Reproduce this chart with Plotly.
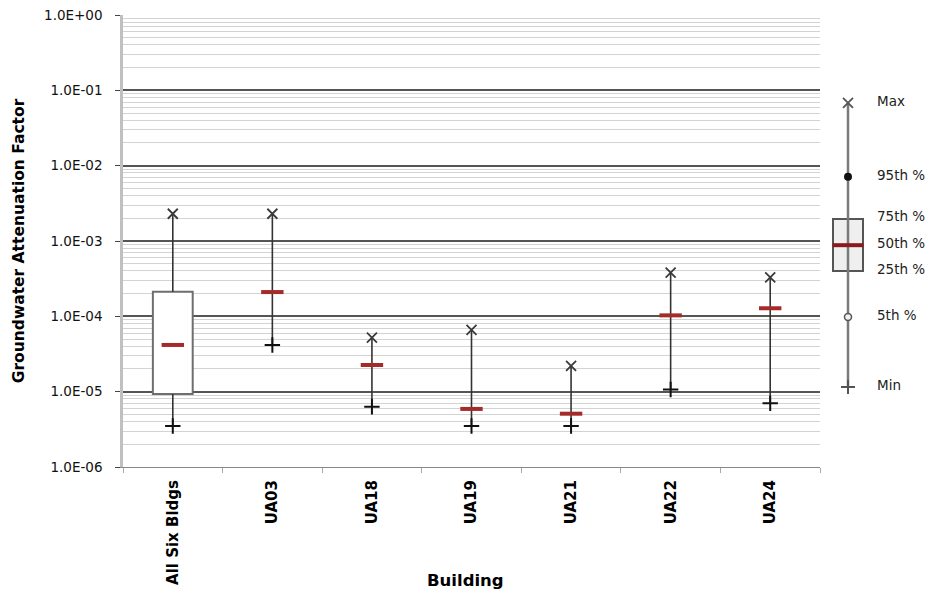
import plotly.graph_objects as go

# ---------------- data ----------------
categories = ["All Six Bldgs", "UA03", "UA18", "UA19", "UA21", "UA22", "UA24"]
max_vals = [2.3e-3, 2.3e-3, 5.2e-5, 6.6e-5, 2.2e-5, 3.8e-4, 3.3e-4]
p75_vals = [2.12e-4, None, None, None, None, None, None]
median_vals = [4.17e-5, 2.1e-4, 2.26e-5, 5.9e-6, 5.1e-6, 1.03e-4, 1.28e-4]
p25_vals = [9.3e-6, None, None, None, None, None, None]
min_vals = [3.5e-6, 4.17e-5, 6.3e-6, 3.5e-6, 3.5e-6, 1.07e-5, 7.0e-6]

y_tick_vals = [1e0, 1e-1, 1e-2, 1e-3, 1e-4, 1e-5, 1e-6]
y_tick_text = ["1.0E+00", "1.0E-01", "1.0E-02", "1.0E-03", "1.0E-04", "1.0E-05", "1.0E-06"]

# legend key (illustrative box)
key_stats = {"max": 0.068, "p95": 7.1e-3, "p75": 1.96e-3, "median": 8.8e-4,
             "p25": 4.0e-4, "p5": 9.8e-5, "min": 1.15e-5}
key_labels = ["Max", "95th %", "75th %", "50th %", "25th %", "5th %", "Min"]
key_label_vals = [0.068, 7.1e-3, 2.05e-3, 9.0e-4, 4.1e-4, 1.0e-4, 1.15e-5]

FONT = "DejaVu Sans"

fig = go.Figure()

# whiskers
wx, wy = [], []
for c, mn, mx, q1, q3 in zip(categories, min_vals, max_vals, p25_vals, p75_vals):
    if q1 is not None:
        wx += [c, c, None, c, c, None]
        wy += [mn, q1, None, q3, mx, None]
    else:
        wx += [c, c, None]
        wy += [mn, mx, None]
fig.add_trace(go.Scatter(x=wx, y=wy, mode="lines", line=dict(color="#333333", width=1.6),
                         hoverinfo="skip", showlegend=False))

# boxes
bx = [c for c, q in zip(categories, p25_vals) if q is not None]
bbase = [q for q in p25_vals if q is not None]
bh = [q3 - q1 for q1, q3 in zip(p25_vals, p75_vals) if q1 is not None]
fig.add_trace(go.Bar(x=bx, y=bh, base=bbase, width=0.4,
                     marker=dict(color="white", line=dict(color="#6e6e6e", width=2)),
                     showlegend=False, hoverinfo="skip"))

# max markers
fig.add_trace(go.Scatter(x=categories, y=max_vals, mode="markers",
                         marker=dict(symbol="x-thin", size=10, line=dict(color="#3a3a3a", width=1.8)),
                         showlegend=False))
# min markers
fig.add_trace(go.Scatter(x=categories, y=min_vals, mode="markers",
                         marker=dict(symbol="cross-thin", size=11, line=dict(color="#111111", width=2)),
                         showlegend=False))
# medians
fig.add_trace(go.Scatter(x=categories, y=median_vals, mode="markers",
                         marker=dict(symbol="line-ew", size=16, line=dict(color="#a52a2a", width=4)),
                         showlegend=False))

# ---------------- legend key on secondary axes ----------------
kx = 0.18
fig.add_trace(go.Scatter(x=[kx, kx], y=[key_stats["min"], key_stats["max"]], xaxis="x2", yaxis="y2",
                         mode="lines", line=dict(color="#7a7a7a", width=2.5), showlegend=False, hoverinfo="skip"))
fig.add_trace(go.Bar(x=[kx], y=[key_stats["p75"] - key_stats["p25"]], base=[key_stats["p25"]], width=0.3,
                     xaxis="x2", yaxis="y2",
                     marker=dict(color="#efefef", line=dict(color="#555555", width=2)),
                     showlegend=False, hoverinfo="skip"))
fig.add_trace(go.Scatter(x=[kx], y=[key_stats["max"]], xaxis="x2", yaxis="y2", mode="markers",
                         marker=dict(symbol="x-thin", size=10, line=dict(color="#555555", width=1.8)),
                         showlegend=False))
fig.add_trace(go.Scatter(x=[kx], y=[key_stats["p95"]], xaxis="x2", yaxis="y2", mode="markers",
                         marker=dict(symbol="circle", size=8, color="#111111"), showlegend=False))
fig.add_trace(go.Scatter(x=[kx], y=[key_stats["p5"]], xaxis="x2", yaxis="y2", mode="markers",
                         marker=dict(symbol="circle", size=7, color="#f0f0f0", line=dict(color="#555555", width=1.5)),
                         showlegend=False))
fig.add_trace(go.Scatter(x=[kx], y=[key_stats["min"]], xaxis="x2", yaxis="y2", mode="markers",
                         marker=dict(symbol="cross-thin", size=10, line=dict(color="#555555", width=2)),
                         showlegend=False))
fig.add_trace(go.Scatter(x=[kx], y=[key_stats["median"]], xaxis="x2", yaxis="y2", mode="markers",
                         marker=dict(symbol="line-ew", size=22, line=dict(color="#8b1a1a", width=4)),
                         showlegend=False))
fig.add_trace(go.Scatter(x=[0.47] * len(key_labels), y=key_label_vals, xaxis="x2", yaxis="y2",
                         mode="text", text=key_labels, textposition="middle right",
                         textfont=dict(family=FONT, size=13.5, color="#222222"), showlegend=False, hoverinfo="skip"))

W, H = 930, 594
ml, mr, mt, mb = 123, 0, 15, 127
pw = W - ml - mr
ph = H - mt - mb
main_right = (820 - ml) / pw
fig.update_layout(
    width=W, height=H,
    margin=dict(l=ml, r=mr, t=mt, b=mb),
    paper_bgcolor="white", plot_bgcolor="white",
    font=dict(family=FONT, size=13, color="#111111"),
    barmode="overlay",
    xaxis=dict(domain=[0, main_right], type="category", categoryorder="array", categoryarray=categories,
               range=[-0.5, len(categories) - 0.5],
               tickson="boundaries", ticks="outside", ticklen=5, tickcolor="#aaaaaa",
               showgrid=False, showline=True, linecolor="#888888", linewidth=1,
               tickangle=-90, tickfont=dict(family=FONT, size=15, color="#000000", weight="bold"),
               ticklabelstandoff=6,
               zeroline=False),
    yaxis=dict(type="log", range=[-6, 0], tickvals=y_tick_vals, ticktext=y_tick_text,
               ticks="outside", ticklen=5, tickcolor="#444444",
               showline=True, linecolor="#c0c0c0", linewidth=2.5,
               showgrid=True, gridcolor="#555555", gridwidth=1.5,
               minor=dict(dtick="D1", showgrid=True, gridcolor="#d3d3d3", gridwidth=1, ticks=""),
               tickfont=dict(family=FONT, size=13.5, color="#111111"),
               ticklabelstandoff=10,
               title=dict(text="<b>Groundwater Attenuation Factor</b>",
                          font=dict(family=FONT, size=15.5, color="#000000"), standoff=16),
               zeroline=False),
    xaxis2=dict(domain=[(830 - ml) / pw, 1], range=[0, 1], anchor="y2", visible=False),
    yaxis2=dict(type="log", range=[-6, 0], anchor="x2", overlaying="y", visible=False, showgrid=False),
    annotations=[dict(text="<b>Building</b>", xref="paper", yref="paper",
                      x=(465 - ml) / pw, y=(mt + ph - 580) / ph, xanchor="center", yanchor="middle",
                      showarrow=False, font=dict(family=FONT, size=16.5, color="#000000"))],
)

fig.write_html("out.html")
